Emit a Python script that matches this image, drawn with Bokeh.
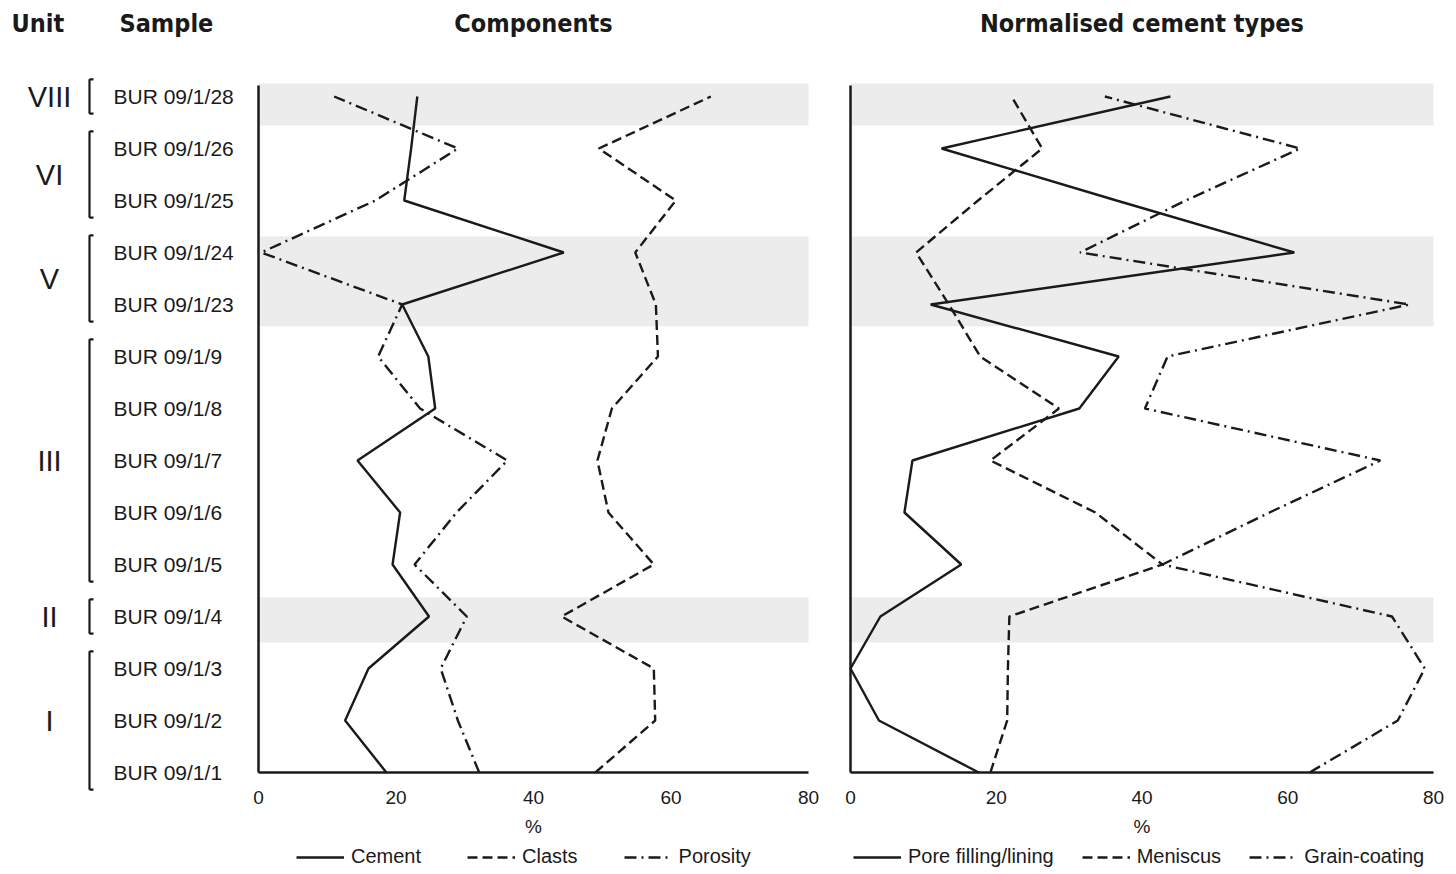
from bokeh.plotting import figure
from bokeh.models import Range1d, Legend, LegendItem, BoxAnnotation, ColumnDataSource
from bokeh.embed import file_html
from bokeh.resources import INLINE
from bokeh.core.properties import value

# ---------------- data (bottom to top) ----------------
samples = ["BUR 09/1/1", "BUR 09/1/2", "BUR 09/1/3", "BUR 09/1/4", "BUR 09/1/5",
           "BUR 09/1/6", "BUR 09/1/7", "BUR 09/1/8", "BUR 09/1/9", "BUR 09/1/23",
           "BUR 09/1/24", "BUR 09/1/25", "BUR 09/1/26", "BUR 09/1/28"]
units = ["I", "II", "III", "V", "VI", "VIII"]
unit_first = [0, 3, 4, 9, 11, 13]
unit_last = [2, 3, 8, 10, 12, 13]
shaded_units = ["II", "V", "VIII"]
shaded_bottom = [2.50, 8.58, 12.44]
shaded_top = [3.37, 10.31, 13.25]

cement = [18.6, 12.6, 16.0, 24.8, 19.5, 20.6, 14.4, 25.7, 24.7, 20.9, 44.4, 21.2, 22.2, 23.1]
clasts = [49.0, 57.7, 57.5, 44.1, 57.5, 50.9, 49.3, 51.4, 58.1, 57.8, 54.8, 60.7, 49.5, 65.8]
porosity = [32.1, 29.0, 26.5, 30.3, 22.7, 28.8, 36.2, 23.5, 17.4, 20.9, 0.4, 17.0, 29.0, 11.0]

pore_filling = [17.6, 3.9, 0.0, 4.1, 15.2, 7.4, 8.5, 31.4, 36.8, 11.0, 60.9, 36.5, 12.5, 43.9]
meniscus = [19.2, 21.5, 21.6, 21.8, 42.8, 33.6, 19.2, 28.6, 17.8, 13.5, 9.0, 17.5, 26.3, 22.1]
grain_coating = [63.0, 75.1, 78.8, 74.3, 42.8, 57.5, 72.7, 40.4, 43.5, 76.7, 31.5, 46.0, 61.7, 34.9]

x_ticks = [0, 20, 40, 60, 80]
x_min, x_max = 0, 80

# ---------------- style / layout ----------------
FONT = "Liberation Sans"
TITLE_FONT = "DejaVu Sans Condensed, Liberation Sans Narrow, Liberation Sans"
INK = "#1a1a1a"
BAND = "#ebeceb"
W, H = 1456, 874
TOP, BOTTOM = 83, 102          # space above / below the data frames
PX = 52.0                      # pixels per sample step
Y_TOP = (H - TOP - BOTTOM) / PX
ypos = list(range(len(samples)))

SOLID = "solid"
DASHED = "10 5"
DASHDOT = "12 5 2 5"
LINE_W = 2.4


def px_range(px_left, px_right):
    """Extra x range so that x_min..x_max lands between the given pixel columns."""
    s = (px_right - px_left) / (x_max - x_min)
    return Range1d(x_min - px_left / s, x_max + (W - px_right) / s)


p = figure(width=W, height=H, x_range=Range1d(0, W),
           y_range=Range1d(-BOTTOM / PX, Y_TOP + TOP / PX),
           x_axis_type=None, y_axis_type=None, output_backend="svg", toolbar_location=None,
           min_border_left=0, min_border_right=0, min_border_top=0, min_border_bottom=0)
p.title.visible = False
p.outline_line_color = None
p.xgrid.visible = False
p.ygrid.visible = False
p.extra_x_ranges = {"comp": px_range(258, 808), "cem": px_range(850, 1433)}

title_y = Y_TOP + (TOP - 23) / PX
tick_y = -(797 - 772) / PX
pct_y = -(826 - 772) / PX

# ---------------- label column ----------------
p.text(x=[11, 119], y=[title_y, title_y], text=["Unit", "Sample"],
       text_font=value(TITLE_FONT), text_font_style="bold", text_font_size="25px",
       text_color=INK, text_align="left", text_baseline="middle")

unit_y = [(a + b) / 2 for a, b in zip(unit_first, unit_last)]
p.text(x=[49] * len(units), y=unit_y, text=units, text_font=value(FONT),
       text_font_size="29px", text_color=INK, text_align="center", text_baseline="middle")

BX = 89
bx0, by0, bx1, by1 = [], [], [], []
for a, b in zip(unit_first, unit_last):
    lo, hi = a - 0.33, b + 0.33
    bx0 += [BX, BX, BX]
    by0 += [lo, lo, hi]
    bx1 += [BX, BX + 4, BX + 4]
    by1 += [hi, lo, hi]
p.segment(x0=bx0, y0=by0, x1=bx1, y1=by1, line_color=INK, line_width=2.2)

p.text(x=[113] * len(samples), y=ypos, text=samples, text_font=value(FONT),
       text_font_size="21px", text_color=INK, text_align="left", text_baseline="middle")


# ---------------- panels ----------------
def panel(rng, title, series, names, dashes, leg_x, spacing):
    for lo, hi in zip(shaded_bottom, shaded_top):
        p.add_layout(BoxAnnotation(left=x_min, right=x_max, bottom=lo, top=hi,
                                   x_range_name=rng, fill_color=BAND, fill_alpha=1.0,
                                   line_color=None, level="underlay"))
    # axis lines
    p.segment(x0=[x_min, x_min], y0=[0, 0], x1=[x_min, x_max], y1=[Y_TOP - 0.04, 0],
              x_range_name=rng, line_color=INK, line_width=2.5)
    # tick labels and axis title
    p.text(x=x_ticks, y=[tick_y] * len(x_ticks), text=[str(t) for t in x_ticks],
           x_range_name=rng, text_font=value(FONT), text_font_size="19px", text_color=INK,
           text_align="center", text_baseline="middle")
    mid = (x_min + x_max) / 2
    p.text(x=[mid], y=[pct_y], text=["%"], x_range_name=rng, text_font=value(FONT),
           text_font_size="19px", text_color=INK, text_align="center", text_baseline="middle")
    p.text(x=[mid], y=[title_y], text=[title], x_range_name=rng, text_font=value(TITLE_FONT),
           text_font_style="bold", text_font_size="25px", text_color=INK,
           text_align="center", text_baseline="middle")

    items = []
    for s, n, d in zip(series, names, dashes):
        src = ColumnDataSource(dict(x=s, y=ypos))
        r = p.line("x", "y", source=src, x_range_name=rng, line_color=INK, line_width=LINE_W,
                   line_dash=d)
        items.append(LegendItem(label=n, renderers=[r]))

    leg = Legend(items=items, orientation="horizontal", location=(leg_x, 6))
    leg.glyph_width = 48
    leg.glyph_height = 20
    leg.label_standoff = 7
    leg.spacing = spacing
    leg.padding = 0
    leg.margin = 0
    leg.border_line_color = None
    leg.background_fill_alpha = 0
    leg.label_text_font = FONT
    leg.label_text_font_size = "20px"
    leg.label_text_color = INK
    p.add_layout(leg)


panel("comp", "Components", [cement, clasts, porosity], ["Cement", "Clasts", "Porosity"],
      [SOLID, DASHED, DASHDOT], 296, 46)
panel("cem", "Normalised cement types", [pore_filling, meniscus, grain_coating],
      ["Pore filling/lining", "Meniscus", "Grain-coating"], [SOLID, DASHED, DASHDOT], 853, 28)

open("out.html", "w").write(file_html(p, INLINE, title="Components and cement types"))
